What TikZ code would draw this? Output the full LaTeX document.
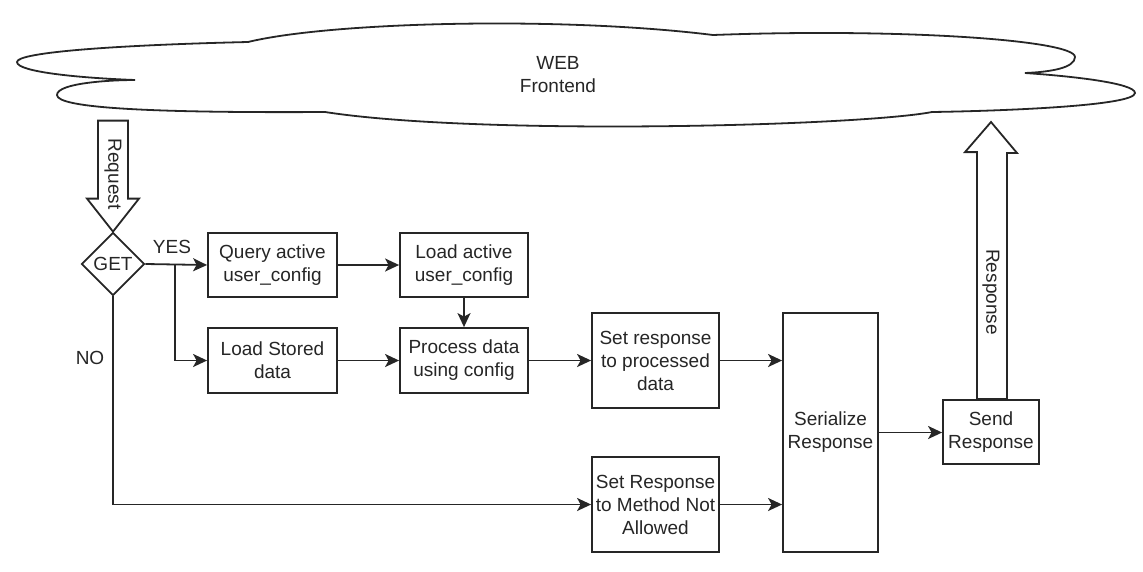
\documentclass[tikz,border=0pt]{standalone}
\usepackage{fontspec}
\setmainfont{Liberation Sans}
\usetikzlibrary{arrows.meta,shapes.geometric,calc}
\definecolor{ink}{HTML}{262626}
\tikzset{
  base/.style={font=\fontsize{19}{23}\selectfont, text=ink},
  box/.style={base, draw=ink, line width=1.8pt, fill=white, align=center, inner sep=0pt},
  decision/.style={base, draw=ink, line width=1.8pt, diamond, inner sep=0pt, minimum width=63pt, minimum height=63pt},
  arr/.style={draw=ink, line width=1.8pt, -{Stealth[length=14pt,width=13pt,inset=3.5pt]}},
  wire/.style={draw=ink, line width=1.8pt},
  lbl/.style={base, inner sep=0pt},
  fat/.style={draw=ink, line width=1.8pt, fill=white, line join=miter}
}
\begin{document}
\begin{tikzpicture}[x=1pt,y=-1pt]
\useasboundingbox (0,0) rectangle (1143,571);

% the web frontend cloud
\draw[wire, fill=white, line join=miter]
  (248,42) .. controls (330,22) and (560,16) .. (713,35)
  .. controls (900,28) and (1075,40) .. (1075,57)
  .. controls (1075,68) and (1050,72) .. (1025,73)
  .. controls (1070,76) and (1135,83) .. (1135,93)
  .. controls (1135,106) and (1000,111) .. (932,112)
  .. controls (860,126) and (480,136) .. (325,112)
  .. controls (150,113) and (57,108) .. (57,95)
  .. controls (57,83) and (110,80) .. (135,80)
  .. controls (80,78) and (17,72) .. (17,62)
  .. controls (17,52) and (120,45) .. (248,42) -- cycle;
\node[lbl, align=center] (web) at (558,74.5) {WEB\\Frontend};

% process steps
\node[decision] (get) at (113,264) {GET};
\node[box, minimum width=129pt, minimum height=64pt] (query) at (272.5,265) {Query active\\user\_config};
\node[box, minimum width=128pt, minimum height=64pt] (loadactive) at (464,265) {Load active\\user\_config};
\node[box, minimum width=129pt, minimum height=65pt] (loadstored) at (272.5,360.5) {Load Stored\\data};
\node[box, minimum width=128pt, minimum height=65pt] (process) at (464,360.5) {Process data\\using config};
\node[box, minimum width=127pt, minimum height=95pt] (setresp) at (655.5,360.5) {Set response\\to processed\\data};
\node[box, minimum width=127pt, minimum height=95pt] (setmethod) at (655.5,504.5) {Set Response\\to Method Not\\Allowed};
\node[box, minimum width=95pt, minimum height=239pt] (serialize) at (830.5,432.5) {Serialize\\Response};
\node[box, minimum width=96pt, minimum height=64pt] (send) at (991,432) {Send\\Response};

% request block arrow into the decision
\draw[fat] (get.north) -- ++(-26,-33) -- ++(11,0) -- ++(0,-78) -- ++(30,0)
  -- ++(0,78) -- ++(11,0) -- cycle;
\node[lbl, rotate=-90] (reqlabel) at (113,174) {Request};

% response block arrow back to the frontend
\draw[fat] ($(send.north)+(-14,0)$) -- ++(0,-247) -- ++(-12,0) -- (991,122)
  -- ++(26,31) -- ++(-10,0) -- ($(send.north)+(16,0)$) -- cycle;
\node[lbl, rotate=-90] (resplabel) at (991,292) {Response};

% branch labels
\node[lbl] (yes) at (172,247) {YES};
\node[lbl] (no) at (90,358) {NO};

% connectors
\coordinate (split) at (175,265);
\draw[arr] (get.east) -- (query.west);
\draw[arr] (split) |- (loadstored.west);
\draw[arr] (query.east) -- (loadactive.west);
\draw[arr] (loadactive.south) -- (process.north);
\draw[arr] (loadstored.east) -- (process.west);
\draw[arr] (process.east) -- (setresp.west);
\draw[arr] (setresp.east) -- (setresp.east -| serialize.west);
\draw[arr] (get.south) |- (setmethod.west);
\draw[arr] (setmethod.east) -- (setmethod.east -| serialize.west);
\draw[arr] (serialize.east) -- (serialize.east -| send.west);
\end{tikzpicture}
\end{document}
